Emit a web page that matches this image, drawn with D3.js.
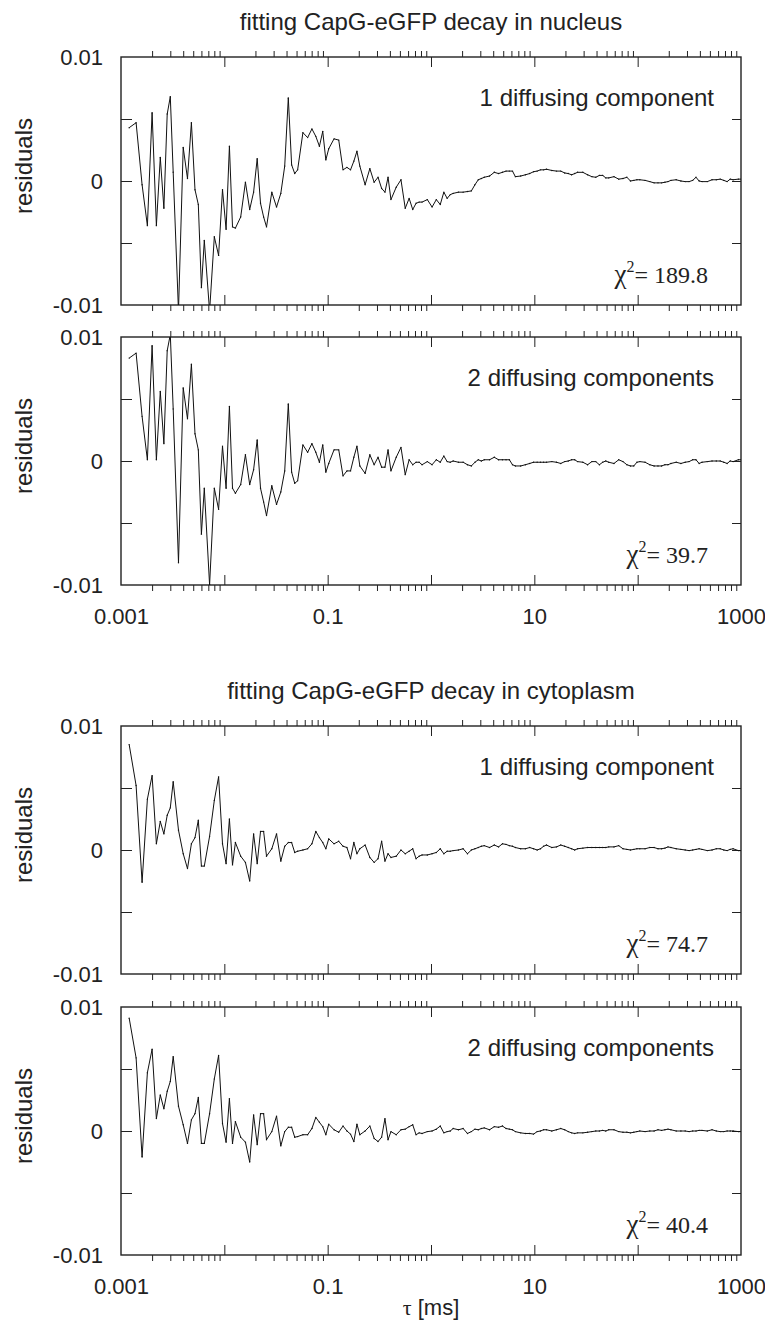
<!DOCTYPE html>
<html>
<head>
<meta charset="utf-8">
<script src="https://cdn.jsdelivr.net/npm/d3@7"></script>
<style>
  body { margin: 0; background: #fff; }
  svg { display: block; }
  text { fill: #222; font-family: "Liberation Sans", Arial, Helvetica, sans-serif; }
</style>
</head>
<body>
<svg id="chart" width="765" height="1321"></svg>
<script>
// lag times of the correlator, in ms (same for all four panels)
const tau = [
  0.0012, 0.0014, 0.0016, 0.0018, 0.0020, 0.0022, 0.0024, 0.0026, 0.0028, 0.0030, 0.0032,
  0.0036, 0.0040, 0.0044, 0.0048, 0.0052, 0.0056, 0.0060, 0.0064,
  0.0072, 0.0080, 0.0088, 0.0096, 0.0104, 0.0112, 0.0120, 0.0128,
  0.0144, 0.0160, 0.0176, 0.0192, 0.0208, 0.0224, 0.0240, 0.0256,
  0.0288, 0.0320, 0.0352, 0.0384, 0.0416, 0.0448, 0.0480, 0.0512,
  0.0576, 0.0640, 0.0704, 0.0768, 0.0832, 0.0896, 0.0960, 0.1024,
  0.1152, 0.1280, 0.1408, 0.1536, 0.1664, 0.1792, 0.1920, 0.2048,
  0.2304, 0.2560, 0.2816, 0.3072, 0.3328, 0.3584, 0.3840, 0.4096,
  0.4608, 0.5120, 0.5632, 0.6144, 0.6656, 0.7168, 0.7680, 0.8192,
  0.9216, 1.024, 1.126, 1.229, 1.331, 1.434, 1.536, 1.638,
  1.843, 2.048, 2.253, 2.458, 2.662, 2.867, 3.072, 3.277,
  3.686, 4.096, 4.506, 4.915, 5.325, 5.734, 6.144, 6.554,
  7.373, 8.192, 9.011, 9.830, 10.65, 11.47, 12.29, 13.11,
  14.75, 16.38, 18.02, 19.66, 21.30, 22.94, 24.58, 26.21,
  29.49, 32.77, 36.04, 39.32, 42.60, 45.88, 49.15, 52.43,
  58.98, 65.54, 72.09, 78.64, 85.20, 91.75, 98.30, 104.9,
  117.96, 131.07, 144.18, 157.29, 170.39, 183.50, 196.61, 209.72,
  235.93, 262.14, 288.36, 314.57, 340.79, 367.00, 393.22, 419.43,
  471.86, 524.29, 576.72, 629.15, 681.57, 734.00, 786.43, 838.86,
  943.72, 1048.58
];

// residuals, in units of 1e-3
const nucleus1 = [
  4.3, 4.7, -0.3, -3.6, 5.5, -3.6, 1.9, -2.2, 5.4, 6.8, 0.7,
  -10.5, 2.7, 0.2, 4.7, -0.7, -1.9, -8.6, -4.8,
  -10.5, -4.5, -6.0, -0.7, -3.9, 2.8, -3.7, -3.8,
  -2.9, -0.1, -2.3, -0.9, 1.8, -1.8, -2.9, -3.7,
  -0.9, -2.1, -1.0, 1.2, 6.7, 1.3, 0.6, 0.9,
  3.9, 3.5, 4.2, 3.6, 2.8, 4.0, 1.7, 2.6,
  3.4, 3.3, 0.9, 1.1, 0.9, 1.6, 2.4, 1.2,
  -0.3, 1.0, -0.1, 0.3, -0.6, -0.9, 0.3, -1.5,
  -0.5, 0.1, -2.2, -1.4, -2.3, -1.8, -1.7, -1.7,
  -1.5, -2.1, -1.5, -1.9, -0.9, -1.4, -1.1, -1.0,
  -0.9, -0.9, -0.85, -0.8, -0.3, 0.1, 0.2, 0.3,
  0.4, 0.7, 0.6, 0.7, 0.8, 0.8, 0.8, 0.35,
  0.4, 0.5, 0.6, 0.75, 0.8, 0.9, 0.9, 0.95,
  0.85, 0.8, 0.8, 0.65, 0.6, 0.5, 0.6, 0.7,
  0.7, 0.5, 0.35, 0.3, 0.45, 0.45, 0.25, 0.25,
  0.35, 0.15, 0.2, 0.3, 0.0, 0.05, 0.1, 0.1,
  0.05, -0.05, -0.15, -0.15, -0.15, -0.1, -0.05, 0.05,
  0.1, 0.0, -0.05, -0.05, 0.05, 0.3, 0.0, -0.05,
  -0.05, 0.1, 0.1, 0.15, 0.05, -0.05, 0.15, 0.1,
  0.15, 0.15
];
const nucleus2 = [
  8.3, 8.7, 3.6, 0.1, 9.3, 0.1, 5.6, 1.4, 8.9, 10.2, 4.2,
  -8.2, 5.9, 3.4, 7.8, 2.2, 0.9, -5.9, -2.2,
  -10.0, -2.2, -3.9, 1.2, -2.2, 4.4, -2.2, -2.6,
  -1.9, 0.5, -1.9, -0.7, 1.7, -2.2, -3.3, -4.4,
  -2.0, -3.5, -2.5, -0.8, 4.6, -0.9, -1.8, -1.6,
  1.3, 0.7, 1.4, 0.7, -0.1, 1.3, -0.9, -0.2,
  0.9, 0.9, -1.2, -0.8, -0.8, 0.3, 1.2, -0.4,
  -1.0, 0.5, -0.3, 0.3, -0.5, -0.5, 0.9, -0.8,
  0.3, 1.1, -1.1, 0.1, -0.3, -0.1, -0.1, -0.3,
  -0.05, -0.3, 0.1, -0.1, 0.4, -0.05, -0.1, 0.0,
  -0.1, -0.1, -0.3, -0.4, -0.1, 0.1, 0.0, 0.1,
  0.1, 0.3, 0.1, 0.1, 0.1, 0.1, -0.3, -0.4,
  -0.4, -0.3, -0.2, -0.1, -0.1, -0.1, -0.1, -0.1,
  -0.05, -0.1, -0.2, -0.05, 0.0, 0.1, 0.1, -0.05,
  -0.1, -0.3, -0.05, -0.05, -0.3, -0.1, 0.0, -0.1,
  -0.2, 0.1, -0.05, -0.3, -0.4, -0.4, -0.1, -0.05,
  -0.1, -0.3, -0.4, -0.4, -0.4, -0.3, -0.3, -0.2,
  -0.1, -0.2, -0.1, -0.05, 0.1, 0.1, -0.2, -0.1,
  -0.05, 0.0, 0.0, 0.0, -0.1, -0.2, 0.0, -0.05,
  0.1, 0.1
];
const cytoplasm1 = [
  8.5, 5.2, -2.6, 4.1, 6.0, 0.5, 2.3, 1.3, 2.8, 3.4, 5.5,
  1.6, -0.3, -1.5, 0.5, 1.0, 2.4, -1.3, -1.3,
  1.1, 4.0, 5.9, 0.5, -1.1, 2.5, -1.2, 0.6,
  -0.5, -1.0, -2.5, 1.3, -1.1, 1.5, 1.5, -0.5,
  0.1, 1.3, -0.9, 0.3, 0.6, 0.6, -0.2, -0.1,
  0.0, 0.1, 0.5, 1.5, 1.0, 0.6, 0.1, 0.9,
  0.5, 0.7, 0.3, 0.2, -0.7, 0.6, -0.3, 0.1,
  0.4, -0.6, -1.0, -0.7, 0.7, -0.9, -0.3, -0.6,
  -0.5, 0.0, -0.3, -0.1, 0.1, -0.7, -0.5, -0.4,
  -0.4, -0.3, -0.2, 0.1, -0.3, -0.1, -0.1, -0.05,
  0.0, 0.1, -0.3, 0.0, 0.1, 0.2, 0.3, 0.35,
  0.2, 0.4, 0.25, 0.5, 0.45, 0.35, 0.3, 0.2,
  0.1, 0.1, 0.2, 0.1, 0.0, 0.1, 0.3, 0.4,
  0.2, 0.25, 0.4, 0.3, 0.2, 0.1, 0.0, 0.1,
  0.15, 0.2, 0.2, 0.2, 0.2, 0.2, 0.2, 0.25,
  0.25, 0.35, 0.1, 0.05, 0.0, 0.05, 0.1, 0.1,
  0.1, 0.2, 0.2, 0.1, 0.1, 0.15, 0.25, 0.2,
  0.1, 0.05, 0.0, -0.05, 0.0, 0.05, 0.1, 0.05,
  -0.05, 0.0, 0.1, 0.1, 0.0, -0.05, 0.05, 0.1,
  -0.05, -0.05
];
const cytoplasm2 = [
  9.1, 5.9, -2.1, 4.7, 6.6, 1.0, 2.9, 1.8, 3.2, 4.0, 6.0,
  2.0, 0.5, -1.0, 0.9, 1.4, 2.7, -1.0, -1.0,
  1.4, 4.2, 6.1, 0.6, -0.9, 2.6, -1.0, 0.75,
  -0.5, -0.9, -2.5, 1.3, -1.1, 1.4, 1.4, -0.7,
  -0.05, 1.2, -1.2, -0.05, 0.3, 0.3, -0.5, -0.45,
  -0.3, -0.3, 0.2, 1.1, 0.7, 0.35, -0.3, 0.55,
  0.1, -0.1, 0.4, 0.0, -0.25, -0.85, 0.55, -0.3,
  0.0, 0.4, -0.6, -0.85, -0.5, 1.0, -0.7, -0.05,
  -0.3, 0.1, 0.15, 0.35, 0.5, -0.3, -0.15, -0.2,
  -0.05, 0.0, 0.15, 0.4, -0.15, -0.05, 0.0, 0.2,
  0.1, 0.2, -0.2, -0.05, 0.15, 0.1, 0.2, 0.25,
  0.1, 0.35, 0.3, 0.4, 0.2, 0.15, 0.1, -0.05,
  -0.15, -0.2, -0.2, -0.25, -0.05, 0.0, 0.1, 0.1,
  0.0, 0.1, 0.2, 0.1, -0.05, -0.15, -0.2, -0.15,
  -0.15, -0.1, -0.05, 0.0, 0.0, 0.05, 0.0, 0.1,
  0.1, -0.05, -0.1, -0.1, -0.15, -0.1, -0.05, 0.0,
  -0.05, 0.0, 0.0, 0.1, 0.05, 0.1, 0.15, 0.1,
  0.0, 0.0, 0.0, -0.05, 0.0, 0.0, 0.05, 0.05,
  0.0, 0.1, 0.0, -0.05, -0.05, 0.0, 0.0, 0.0,
  -0.05, -0.05
];

// axis ticks and labels
const decades = [0.001, 0.01, 0.1, 1, 10, 100];
const minorSteps = [2, 3, 4, 5, 6, 7, 8, 9];
const majorTicks = [0.01, 0.1, 1, 10, 100];
const xLabelTicks = [0.001, 0.1, 10, 1000];
const xTickLabels = ["0.001", "0.1", "10", "1000"];
const yLabelTicks = [-10, 0, 10];
const yTickLabels = ["-0.01", "0", "0.01"];
const yInnerTicks = [-5, 0, 5];

const minorTicks = decades.flatMap(d => minorSteps.map(m => d * m));

class ResidualPanel {

  constructor(_config, _data) {
    this.config = {
      parentElement: _config.parentElement,
      id: _config.id,
      top: _config.top,
      title: _config.title,
      label: _config.label,
      chi: _config.chi,
      showXLabels: _config.showXLabels || false,
      showXTitle: _config.showXTitle || false,
      left: 121,
      width: 620,
      height: 248
    }
    this.data = _data;
    this.initVis();
  }

  initVis() {
    let vis = this;
    let w = vis.config.width, h = vis.config.height;

    vis.svg = d3.select(vis.config.parentElement)
      .append("g")
      .attr("transform", `translate(${vis.config.left},${vis.config.top})`);

    vis.x = d3.scaleLog().domain([0.001, 1000]).range([0, w]);
    vis.y = d3.scaleLinear().domain([-10, 10]).range([h, 0]);

    vis.svg.append("clipPath").attr("id", "clip-" + vis.config.id)
      .append("rect").attr("width", w).attr("height", h);

    // ticks: minors point outwards, decades point inwards
    let axes = [
      { gen: d3.axisBottom(vis.x).tickValues(minorTicks).tickSize(6), y: h },
      { gen: d3.axisTop(vis.x).tickValues(majorTicks).tickSize(10), y: h },
      { gen: d3.axisTop(vis.x).tickValues(minorTicks).tickSize(6), y: 0 },
      { gen: d3.axisBottom(vis.x).tickValues(majorTicks).tickSize(10), y: 0 }
    ];
    axes.forEach(a => {
      vis.svg.append("g")
        .attr("transform", `translate(0,${a.y})`)
        .call(a.gen.tickFormat(""))
        .call(g => g.select(".domain").remove());
    });

    vis.svg.append("g")
      .call(d3.axisRight(vis.y).tickValues(yInnerTicks).tickSize(11).tickFormat(""))
      .call(g => g.select(".domain").remove());
    vis.svg.append("g")
      .attr("transform", `translate(${w},0)`)
      .call(d3.axisLeft(vis.y).tickValues(yInnerTicks).tickSize(9).tickFormat(""))
      .call(g => g.select(".domain").remove());

    vis.svg.selectAll(".tick line").attr("stroke", "#222").attr("stroke-width", 1);

    // y labels
    vis.svg.append("g")
      .call(d3.axisLeft(vis.y).tickValues(yLabelTicks).tickSize(0).tickPadding(18)
        .tickFormat((d, i) => yTickLabels[i]))
      .call(g => g.select(".domain").remove())
      .selectAll("text")
      .attr("font-size", 22)
      .attr("font-family", "Liberation Sans, Arial, sans-serif")
      .attr("fill", "#222");

    if (vis.config.showXLabels) {
      vis.svg.append("g")
        .attr("transform", `translate(0,${h})`)
        .call(d3.axisBottom(vis.x).tickValues(xLabelTicks).tickSize(0).tickPadding(23)
          .tickFormat((d, i) => xTickLabels[i]))
        .call(g => g.select(".domain").remove())
        .selectAll("text")
        .attr("font-size", 22)
        .attr("font-family", "Liberation Sans, Arial, sans-serif")
        .attr("fill", "#222");
    }

    // frame
    vis.svg.append("rect")
      .attr("width", w).attr("height", h)
      .attr("fill", "none").attr("stroke", "#222").attr("stroke-width", 1.4);

    // residual curve
    let line = d3.line()
      .x((d, i) => vis.x(tau[i]))
      .y(d => vis.y(d));

    let plot = vis.svg.append("g").attr("clip-path", `url(#clip-${vis.config.id})`);
    plot.append("path")
      .datum(vis.data)
      .attr("d", line)
      .attr("fill", "none")
      .attr("stroke", "#111")
      .attr("stroke-width", 1);
    plot.selectAll("circle").data(vis.data).enter()
      .append("circle")
      .attr("cx", (d, i) => vis.x(tau[i]))
      .attr("cy", d => vis.y(d))
      .attr("r", 0.7)
      .attr("fill", "#111");

    // texts
    vis.svg.append("text")
      .attr("transform", `translate(-98,${h / 2 - 15}) rotate(-90)`)
      .attr("text-anchor", "middle")
      .attr("dominant-baseline", "central")
      .attr("font-size", 24)
      .text("residuals");

    if (vis.config.title) {
      vis.svg.append("text")
        .attr("x", w / 2).attr("y", -27)
        .attr("text-anchor", "middle")
        .attr("font-size", 24)
        .text(vis.config.title);
    }

    vis.svg.append("text")
      .attr("x", w - 27).attr("y", 49)
      .attr("text-anchor", "end")
      .attr("font-size", 24)
      .text(vis.config.label);

    let chi = vis.svg.append("text")
      .attr("x", w - 33).attr("y", h - 22)
      .attr("text-anchor", "end")
      .attr("font-size", 24)
      .style("font-family", "Liberation Serif, Times New Roman, serif");
    chi.append("tspan").attr("font-size", 27).text("\u03C7");
    chi.append("tspan").attr("dy", -11).attr("font-size", 16).text("2");
    chi.append("tspan").attr("dy", 11).text("= " + vis.config.chi);

    if (vis.config.showXTitle) {
      let t = vis.svg.append("text")
        .attr("x", w / 2).attr("y", h + 60)
        .attr("text-anchor", "middle")
        .attr("font-size", 22);
      t.append("tspan").style("font-family", "Liberation Serif, Times New Roman, serif").text("\u03C4");
      t.append("tspan").text(" [ms]");
    }
  }
}

new ResidualPanel({ parentElement: "#chart", id: "p1", top: 57,
  title: "fitting CapG-eGFP decay in nucleus", label: "1 diffusing component", chi: "189.8" }, nucleus1);
new ResidualPanel({ parentElement: "#chart", id: "p2", top: 337,
  label: "2 diffusing components", chi: "39.7", showXLabels: true }, nucleus2);
new ResidualPanel({ parentElement: "#chart", id: "p3", top: 726,
  title: "fitting CapG-eGFP decay in cytoplasm", label: "1 diffusing component", chi: "74.7" }, cytoplasm1);
new ResidualPanel({ parentElement: "#chart", id: "p4", top: 1007,
  label: "2 diffusing components", chi: "40.4", showXLabels: true, showXTitle: true }, cytoplasm2);
</script>
</body>
</html>
